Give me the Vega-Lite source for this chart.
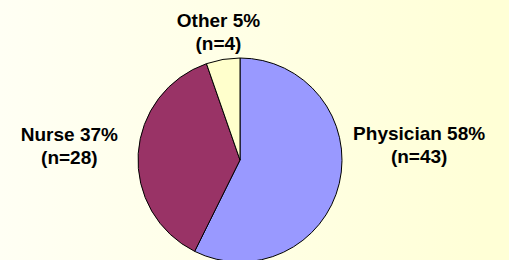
{
  "$schema": "https://vega.github.io/schema/vega-lite/v6.json",
  "width": 480,
  "height": 320,
  "padding": {"left": 0, "top": 0, "right": 29, "bottom": 0},
  "autosize": {"type": "none"},
  "background": "#FFFFD6",
  "config": {"view": {"stroke": null}},
  "data": {
    "values": [
      {"category": "Physician", "n": 43, "label": ["Physician 58%", "(n=43)"]},
      {"category": "Nurse", "n": 28, "label": ["Nurse 37%", "(n=28)"]},
      {"category": "Other", "n": 4, "label": ["Other 5%", "(n=4)"]}
    ]
  },
  "encoding": {
    "theta": {"field": "n", "type": "quantitative", "stack": true},
    "order": {"field": "n", "type": "quantitative", "sort": "descending"}
  },
  "layer": [
    {
      "data": {"values": [{}]},
      "mark": {
        "type": "rect",
        "color": {
          "gradient": "linear", "x1": 0, "y1": 0, "x2": 1, "y2": 0,
          "stops": [{"offset": 0, "color": "#FFFFF4"}, {"offset": 1, "color": "#FFFFD7"}]
        }
      },
      "encoding": {"theta": null, "order": null}
    },
    {
      "mark": {"type": "arc", "radius": 102, "stroke": "#000000", "strokeWidth": 1},
      "encoding": {
        "color": {
          "field": "category", "type": "nominal",
          "scale": {"domain": ["Physician", "Nurse", "Other"], "range": ["#9999FF", "#993366", "#FFFFCC"]},
          "legend": null
        }
      }
    },
    {
      "mark": {"type": "text", "radius": 184, "dy": -68, "font": "Liberation Sans", "fontWeight": "bold", "fontSize": 19, "lineHeight": 23, "align": "center", "baseline": "middle", "color": "#000000"},
      "encoding": {"text": {"condition": {"test": "datum.category === 'Physician'", "field": "label"}, "value": ""}}
    },
    {
      "mark": {"type": "text", "radius": 171, "dy": -14, "font": "Liberation Sans", "fontWeight": "bold", "fontSize": 19, "lineHeight": 23, "align": "center", "baseline": "middle", "color": "#000000"},
      "encoding": {"text": {"condition": {"test": "datum.category === 'Nurse'", "field": "label"}, "value": ""}}
    },
    {
      "mark": {"type": "text", "radius": 129, "dy": -12, "font": "Liberation Sans", "fontWeight": "bold", "fontSize": 19, "lineHeight": 23, "align": "center", "baseline": "middle", "color": "#000000"},
      "encoding": {"text": {"condition": {"test": "datum.category === 'Other'", "field": "label"}, "value": ""}}
    }
  ]
}
